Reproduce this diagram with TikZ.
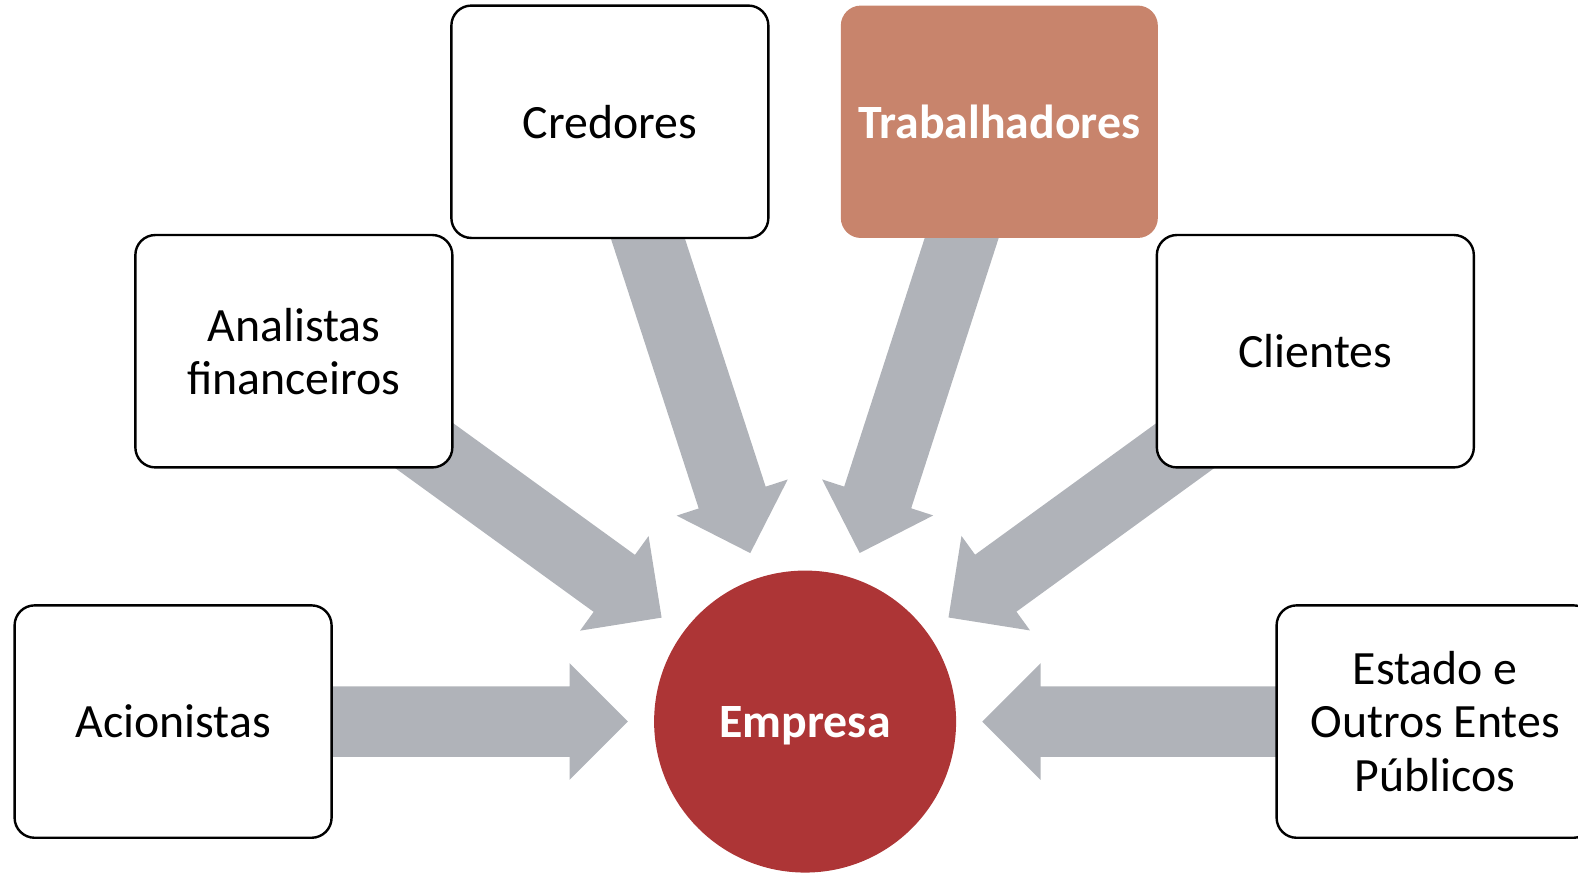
\documentclass[tikz,border=0pt]{standalone}
\usepackage{fontspec}
\setmainfont{Carlito}
\usetikzlibrary{calc, backgrounds}

\definecolor{vermelho}{RGB}{173,53,54}
\definecolor{salmao}{RGB}{200,132,108}
\definecolor{cinza}{RGB}{176,179,185}

\tikzset{
  caixa/.style={rectangle, rounded corners=10pt, draw=black, line width=1.2pt, fill=white,
    minimum width=158.5pt, minimum height=116.2pt, align=center,
    font=\fontsize{23.9}{26.6}\selectfont},
  destaque/.style={caixa, draw=none, fill=salmao, text=white, font=\fontsize{23.9}{26.6}\selectfont\bfseries},
  centro/.style={circle, fill=vermelho, text=white, minimum size=151pt, inner sep=0pt, text depth=0pt,
    font=\fontsize{23.9}{26.6}\selectfont\bfseries},
  seta/.style={fill=cinza}
}

% seta larga de uma caixa ate a empresa
\newcommand{\seta}[1]{%
  \fill[seta] let \p1 = ($(#1)-(empresa)$), \n1 = {atan2(\y1,\x1)}, \n2 = {veclen(\x1,\y1)} in
    [shift={(empresa)}, rotate=\n1]
    (88.6pt,0pt) -- (117.8pt,29.2pt) -- (117.8pt,17.6pt) -- (\n2,17.6pt) -- (\n2,-17.6pt)
    -- (117.8pt,-17.6pt) -- (117.8pt,-29.2pt) -- cycle;}

\begin{document}
\begin{tikzpicture}[x=0.5032pt, y=-0.5032pt]
  \useasboundingbox (0,0) rectangle (1568,870);

  %%% EMPRESA
  \node[centro] (empresa) at (800,717) {Empresa};

  %%% PARTES INTERESSADAS
  \node[caixa] (acionistas) at (172,717) {Acionistas};
  \node[caixa] (analistas) at (292,349) {Analistas\\financeiros};
  \node[caixa] (credores) at (606,121) {Credores};
  \node[destaque] (trabalhadores) at (993,121) {Trabalhadores};
  \node[caixa] (clientes) at (1307,349) {Clientes};
  \node[caixa] (estado) at (1426,717) {Estado e\\Outros Entes\\Públicos};

  %%% SETAS
  \begin{scope}[on background layer]
    \seta{acionistas}
    \seta{analistas}
    \seta{credores}
    \seta{trabalhadores}
    \seta{clientes}
    \seta{estado}
  \end{scope}
\end{tikzpicture}
\end{document}
